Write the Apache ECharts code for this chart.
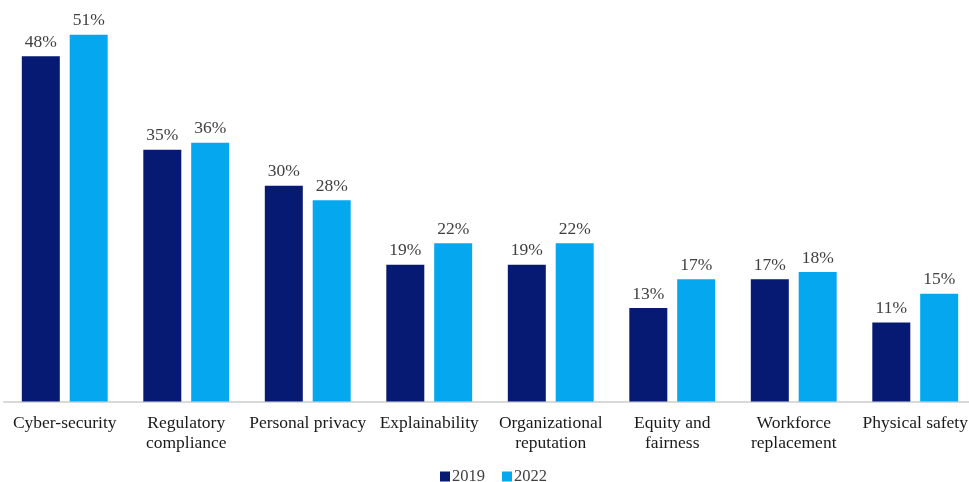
<!DOCTYPE html>
<html><head><meta charset="utf-8">
<script src="https://cdn.jsdelivr.net/npm/echarts@6/dist/echarts.min.js"></script>
<style>html,body{margin:0;padding:0;background:#fff}#c{width:969px;height:482px}</style>
</head><body><div id="c"></div>
<script>
const categories = ["Cyber-security","Regulatory\ncompliance","Personal privacy","Explainability","Organizational\nreputation","Equity and\nfairness","Workforce\nreplacement","Physical safety"];
const values2019 = [48,35,30,19,19,13,17,11];
const values2022 = [51,36,28,22,22,17,18,15];
const seriesNames = ["2019","2022"];
const font = "'Liberation Serif', 'Times New Roman', serif";
const chart = echarts.init(document.getElementById('c'));
const lbl = {show:true, position:'top', distance:5, formatter:'{c}%', color:'#404040', fontFamily:font, fontSize:17.5};
chart.setOption({
  animation:false,
  grid:{left:4, width:972, top:6, bottom:80.5, containLabel:false, outerBoundsMode:'none'},
  legend:{bottom:-8, left:435, itemWidth:10, itemHeight:10, itemGap:17, icon:'rect',
    textStyle:{fontFamily:font, fontSize:16.5, color:'#404040', padding:[0,0,0,-3]}},
  xAxis:{type:'category', data:categories,
    axisLine:{lineStyle:{color:'#d9d9d9', width:2}}, axisTick:{show:false},
    axisLabel:{interval:0, fontFamily:font, fontSize:17.5, color:'#1a1a1a', lineHeight:20, margin:12}},
  yAxis:{type:'value', min:0, max:55, show:false, splitLine:{show:false}},
  series:[
    {name:seriesNames[0], type:'bar', data:values2019, barWidth:38, barGap:'26%', itemStyle:{color:'#061A73'}, label:lbl},
    {name:seriesNames[1], type:'bar', data:values2022, barWidth:38, itemStyle:{color:'#05A8EF'}, label:lbl}
  ]
});
</script></body></html>
